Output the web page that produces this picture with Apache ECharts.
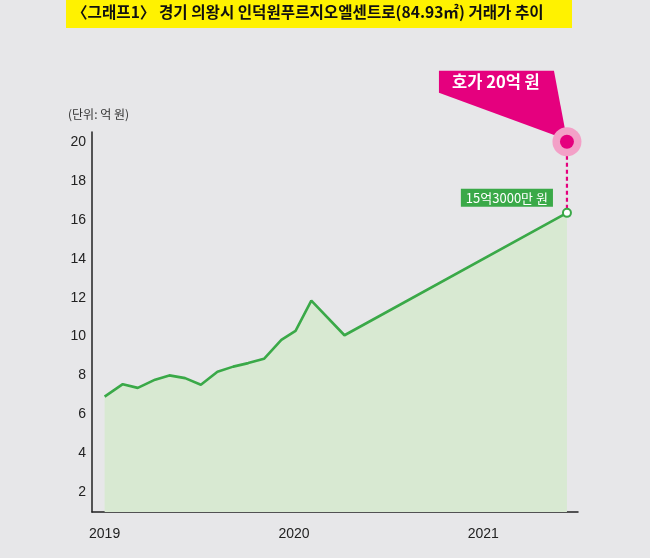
<!DOCTYPE html>
<html><head><meta charset="utf-8">
<script src="https://cdn.jsdelivr.net/npm/echarts@6/dist/echarts.min.js"></script>
<style>html,body{margin:0;padding:0;background:#e7e7e9}#c{width:650px;height:558px}</style>
</head><body><div id="c"></div>
<script>
// ---- data ----
const titleText = '〈그래프1〉 경기 의왕시 인덕원푸르지오엘센트로(84.93㎡) 거래가 추이';
const unitText = '(단위: 억 원)';
// months since Jan 2019
const months = [0, 1.15, 2.1, 3.2, 4.1, 5.1, 6.1, 7.15, 8.15, 9.1, 10.1, 11.2, 12.1, 13.1, 15.2, 29.3];
const prices = [6.92, 7.56, 7.37, 7.79, 8.01, 7.87, 7.53, 8.2, 8.46, 8.64, 8.86, 9.83, 10.29, 11.85, 10.07, 16.35];
const yearTicks = [0, 12, 24];
const yearLabels = ['2019', '2020', '2021'];
const yTicks = [2, 4, 6, 8, 10, 12, 14, 16, 18, 20];
const askingPrice = 20;
const askingText = '호가 20억 원';
const lastText = '15억3000만 원';

// ---- colors ----
const GREEN = '#3aa948';
const PINK = '#e5007e';
const numFont = '"Liberation Sans", Arial, sans-serif';
const krFont = '"Noto Sans CJK KR", sans-serif';

const lastM = months[months.length - 1];
const lastP = prices[prices.length - 1];

const chart = echarts.init(document.getElementById('c'), null, {renderer: 'canvas'});
chart.setOption({
  backgroundColor: '#e7e7e9',
  animation: false,
  grid: {left: 92, right: 72, top: 132, bottom: 46, containLabel: false},
  xAxis: {
    type: 'value', min: -0.8, max: 30,
    axisLine: {show: true, onZero: false, lineStyle: {color: '#222', width: 1.5}},
    axisTick: {show: false},
    splitLine: {show: false},
    axisLabel: {
      customValues: yearTicks,
      formatter: v => yearLabels[yearTicks.indexOf(v)] || '',
      color: '#222', fontSize: 14, fontFamily: numFont, margin: 15
    }
  },
  yAxis: {
    type: 'value', min: 1, max: 20.5,
    axisLine: {show: true, onZero: false, lineStyle: {color: '#222', width: 1.5}},
    axisTick: {show: false},
    splitLine: {show: false},
    axisLabel: {
      customValues: yTicks,
      color: '#222', fontSize: 14, fontFamily: numFont, margin: 6
    }
  },
  graphic: [
    {type: 'rect', left: 66, top: 0, shape: {width: 506, height: 28}, style: {fill: '#fff200'}, z: 10},
    {type: 'text', left: 72, top: 4, style: {text: titleText, fill: '#111', fontSize: 15.6, fontWeight: 'bold', fontFamily: krFont}, z: 11},
    {type: 'text', left: 68, top: 108, style: {text: unitText, fill: '#333', fontSize: 12, fontFamily: krFont}, z: 11}
  ],
  series: [
    {
      type: 'line',
      data: months.map((m, i) => [m, prices[i]]),
      symbol: 'none',
      lineStyle: {color: GREEN, width: 2.6},
      areaStyle: {color: '#d8e9d2', opacity: 1, origin: 'start'},
      z: 2
    },
    {
      type: 'line',
      data: [[lastM, askingPrice], [lastM, lastP]],
      symbol: 'none',
      lineStyle: {color: PINK, width: 2.2, type: [4, 3]},
      z: 3
    },
    {
      type: 'custom',
      data: [[lastM, askingPrice]],
      z: 4,
      renderItem: (params, api) => {
        const p = api.coord([api.value(0), api.value(1)]);
        const x = p[0], y = p[1];
        return {
          type: 'group',
          children: [
            {type: 'polygon', shape: {points: [[x - 128, y - 71], [x - 13, y - 71], [x, y - 2], [x - 128, y - 49]]}, style: {fill: PINK}},
            {type: 'text', style: {text: askingText, x: x - 71, y: y - 60, align: 'center', verticalAlign: 'middle', fill: '#fff', fontSize: 16.5, fontWeight: 'bold', fontFamily: krFont}}
          ]
        };
      }
    },
    {
      type: 'scatter',
      data: [[lastM, askingPrice]],
      symbol: 'circle', symbolSize: 29,
      itemStyle: {color: '#f3a0c7', opacity: 1},
      z: 5
    },
    {
      type: 'scatter',
      data: [[lastM, askingPrice]],
      symbol: 'circle', symbolSize: 14,
      itemStyle: {color: PINK, opacity: 1},
      z: 6
    },
    {
      type: 'scatter',
      data: [[lastM, lastP]],
      symbol: 'circle', symbolSize: 8,
      itemStyle: {color: '#fff', borderColor: GREEN, borderWidth: 2, opacity: 1},
      label: {
        show: true, position: 'left', distance: 9, offset: [0, -15],
        formatter: lastText,
        color: '#fff', fontSize: 13, fontFamily: krFont,
        backgroundColor: GREEN, padding: [3, 5, 2, 5]
      },
      z: 7
    }
  ]
});
</script></body></html>
